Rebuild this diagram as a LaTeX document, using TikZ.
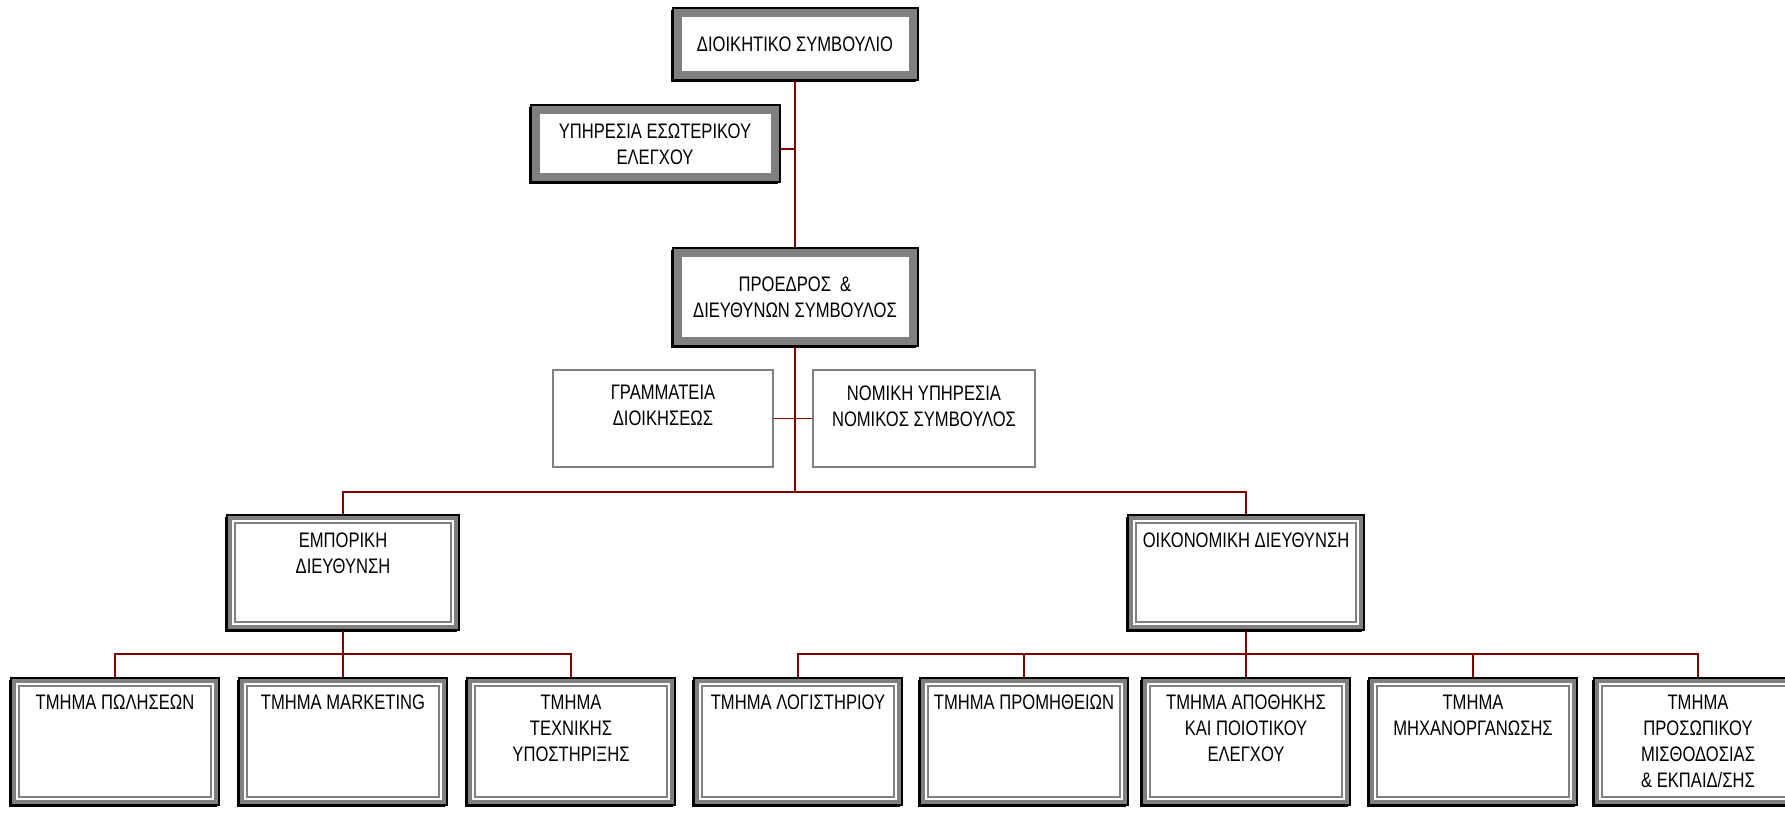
\documentclass[tikz,border=0pt]{standalone}
\usepackage{fontspec}
\setmainfont{Liberation Sans}[FakeStretch=0.79]
\definecolor{linkred}{RGB}{128,0,0}
\definecolor{bandgray}{RGB}{128,128,128}
\newcommand{\deptlines}[1]{\parbox[c][93pt][t]{200pt}{\centering #1}}
\newcommand{\divlines}[1]{\parbox[c][79pt][t]{226pt}{\centering #1}}
\newcommand{\sidelines}[1]{\parbox[c][66pt][t]{212pt}{\centering #1}}
\tikzset{
  link/.style={draw=linkred,line width=1.6pt},
  heavybox/.style={draw=black,line width=2pt,fill=bandgray,inner sep=0pt,align=center,
    preaction={fill=black,transform canvas={shift={(-2pt,-2pt)}}},
    path picture={\fill[white] ([shift={(9pt,9pt)}]path picture bounding box.south west)
      rectangle ([shift={(-9pt,-9pt)}]path picture bounding box.north east);}},
  unitbox/.style={draw=black,line width=2pt,fill=bandgray,inner sep=0pt,
    preaction={fill=black,transform canvas={shift={(-2pt,-2pt)}}},
    path picture={\fill[white] ([shift={(5pt,5pt)}]path picture bounding box.south west)
      rectangle ([shift={(-5pt,-5pt)}]path picture bounding box.north east);
      \draw[bandgray,line width=1.2pt] ([shift={(8pt,8pt)}]path picture bounding box.south west)
      rectangle ([shift={(-8pt,-8pt)}]path picture bounding box.north east);}},
  deptbox/.style={unitbox,minimum width=208pt,minimum height=127pt},
  divbox/.style={unitbox,minimum height=115pt},
  sidebox/.style={draw=bandgray,line width=1.2pt,fill=white,inner sep=0pt,minimum height=97pt}
}
\begin{document}
\begin{tikzpicture}[x=1pt,y=-1pt,font=\fontsize{21}{26}\selectfont]
  \useasboundingbox (0,0) rectangle (1785,813);

  \node[heavybox,minimum width=245pt,minimum height=72pt] (board) at (795,44) {ΔΙΟΙΚΗΤΙΚΟ ΣΥΜΒΟΥΛΙΟ};
  \node[heavybox,minimum width=249pt,minimum height=77pt] (audit) at (655,144) {\raisebox{-5pt}{\parbox{230pt}{\centering ΥΠΗΡΕΣΙΑ ΕΣΩΤΕΡΙΚΟΥ\\ΕΛΕΓΧΟΥ}}};
  \node[heavybox,minimum width=245pt,minimum height=98pt] (ceo) at (795,297) {ΠΡΟΕΔΡΟΣ \ \&\\ΔΙΕΥΘΥΝΩΝ ΣΥΜΒΟΥΛΟΣ};

  \node[sidebox,minimum width=220pt] (secr) at (663,418.5) {\sidelines{ΓΡΑΜΜΑΤΕΙΑ\\ΔΙΟΙΚΗΣΕΩΣ}};
  \node[sidebox,minimum width=222pt] (legal) at (924,418.5) {\sidelines{ΝΟΜΙΚΗ ΥΠΗΡΕΣΙΑ\\ΝΟΜΙΚΟΣ ΣΥΜΒΟΥΛΟΣ}};

  \node[divbox,minimum width=232pt] (commdiv) at (343,572.5) {\divlines{ΕΜΠΟΡΙΚΗ\\ΔΙΕΥΘΥΝΣΗ}};
  \node[divbox,minimum width=236pt] (findiv) at (1246,572.5) {\divlines{ΟΙΚΟΝΟΜΙΚΗ ΔΙΕΥΘΥΝΣΗ}};

  \node[deptbox] (sales) at (115,741.5) {\deptlines{ΤΜΗΜΑ ΠΩΛΗΣΕΩΝ}};
  \node[deptbox] (mkt) at (343,741.5) {\deptlines{ΤΜΗΜΑ MARKETING}};
  \node[deptbox] (tech) at (571,741.5) {\deptlines{ΤΜΗΜΑ\\ΤΕΧΝΙΚΗΣ\\ΥΠΟΣΤΗΡΙΞΗΣ}};
  \node[deptbox] (acct) at (798,741.5) {\deptlines{ΤΜΗΜΑ ΛΟΓΙΣΤΗΡΙΟΥ}};
  \node[deptbox] (supply) at (1024,741.5) {\deptlines{ΤΜΗΜΑ ΠΡΟΜΗΘΕΙΩΝ}};
  \node[deptbox] (store) at (1246,741.5) {\deptlines{ΤΜΗΜΑ ΑΠΟΘΗΚΗΣ\\ΚΑΙ ΠΟΙΟΤΙΚΟΥ\\ΕΛΕΓΧΟΥ}};
  \node[deptbox] (infosys) at (1473,741.5) {\deptlines{ΤΜΗΜΑ\\ΜΗΧΑΝΟΡΓΑΝΩΣΗΣ}};
  \node[deptbox] (staff) at (1698,741.5) {\deptlines{ΤΜΗΜΑ\\ΠΡΟΣΩΠΙΚΟΥ\\ΜΙΣΘΟΔΟΣΙΑΣ\\\& ΕΚΠΑΙΔ/ΣΗΣ}};

  \coordinate (divbar) at (795,492);
  \coordinate (combar) at (343,654);
  \coordinate (finbar) at (1246,654);

  \draw[link] (board.south) -- (ceo.north);
  \draw[link] ([yshift=-5pt]audit.east) -- ([yshift=-5pt]audit.east -| board.south);
  \draw[link] (ceo.south) -- (divbar);
  \draw[link] (secr.east) -- (legal.west);
  \draw[link] (commdiv.north) |- (divbar) -| (findiv.north);
  \draw[link] (commdiv.south) -- (combar);
  \draw[link] (sales.north) |- (combar) -| (tech.north);
  \draw[link] (mkt.north) -- (combar);
  \draw[link] (findiv.south) -- (finbar);
  \draw[link] (acct.north) |- (finbar) -| (staff.north);
  \draw[link] (supply.north) |- (finbar);
  \draw[link] (infosys.north) |- (finbar);
  \draw[link] (store.north) -- (finbar);
\end{tikzpicture}
\end{document}
